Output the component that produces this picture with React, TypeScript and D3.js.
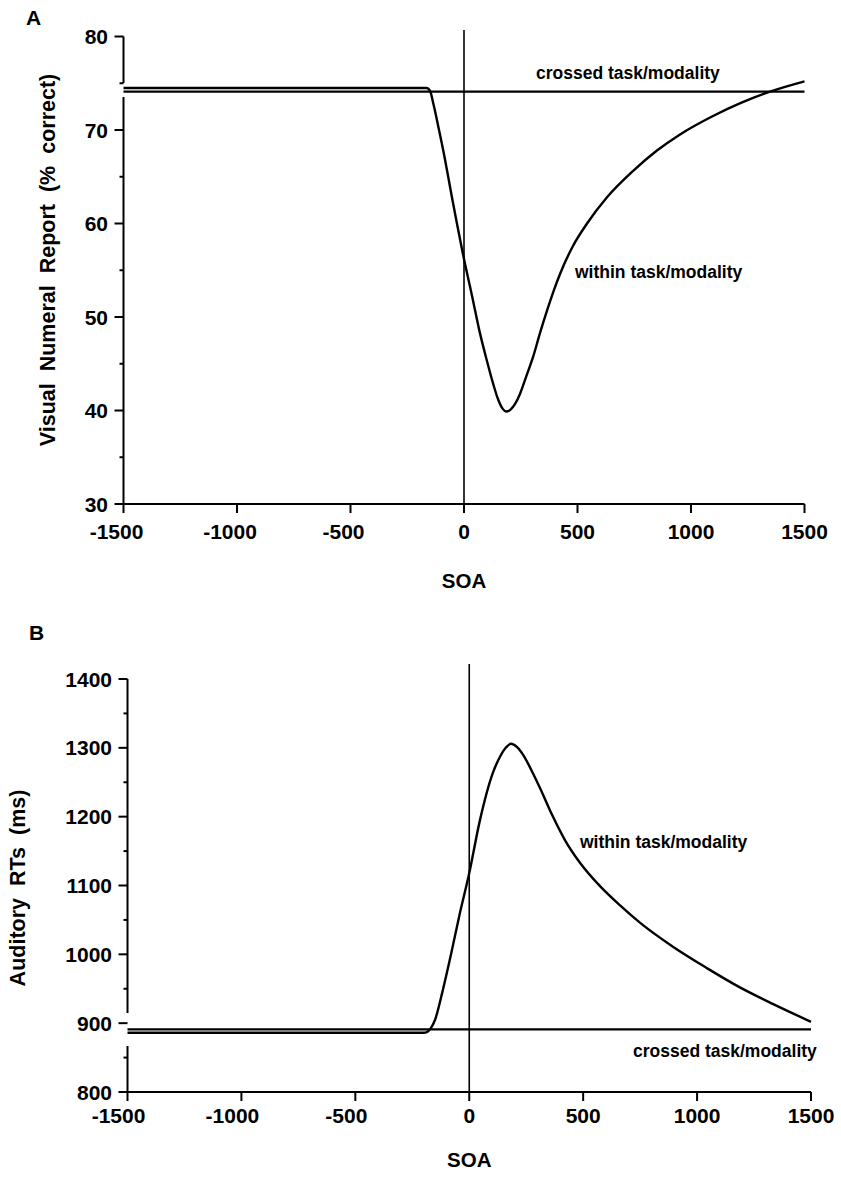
import React from "react";
import * as d3 from "d3";

// ---------- Data ----------
const xTicks = [-1500, -1000, -500, 0, 500, 1000, 1500];

// Panel A: Visual numeral report (% correct)
const aYMajor = [30, 40, 50, 60, 70, 80];
const aYMinor = [35, 45, 55, 65, 75];
const aWithinSOA = [-1500, -1000, -500, -300, -165, -150, -135, -110, -92, -50, 0, 35, 70, 100, 128, 150, 170, 185, 205, 225, 247, 275, 304, 335, 366, 395, 423, 480, 542, 630, 744, 850, 950, 1097, 1220, 1348, 1500];
const aWithinVal = [74.5, 74.5, 74.5, 74.5, 74.5, 74.2, 72.8, 70.0, 67.9, 62.4, 56.2, 52.3, 48.3, 45.4, 42.9, 41.2, 40.2, 39.9, 40.1, 40.7, 41.8, 43.7, 45.7, 48.3, 50.7, 52.8, 54.6, 57.6, 60.0, 62.8, 65.6, 67.8, 69.5, 71.5, 72.9, 74.1, 75.2];
const aCrossedSOA = [-1500, 1500];
const aCrossedVal = [74.1, 74.1];

// Panel B: Auditory RTs (ms)
const bYMajor = [800, 900, 1000, 1100, 1200, 1300, 1400];
const bYMinor = [850, 950, 1050, 1150, 1250, 1350];
const bWithinSOA = [-1500, -1000, -500, -300, -200, -186, -170, -150, -116, -80, -45, 0, 47, 104, 135, 160, 183, 210, 240, 275, 310, 363, 420, 486, 574, 662, 749, 894, 1043, 1188, 1332, 1500];
const bWithinVal = [886, 886, 886, 886, 886, 887, 892, 905, 948, 1000, 1054, 1118, 1195, 1264, 1287, 1300, 1306, 1301, 1288, 1266, 1242, 1203, 1166, 1133, 1099, 1071, 1046, 1011, 980, 952, 928, 902];
const bCrossedSOA = [-1500, 1500];
const bCrossedVal = [891, 891];

const FONT = "'Liberation Sans', Arial, Helvetica, sans-serif";

type PanelProps = {
  letter: string;
  letterPos: [number, number];
  xRange: [number, number];
  yDomain: [number, number];
  yRange: [number, number];
  yMajor: number[];
  yMinor: number[];
  withinSOA: number[];
  withinVal: number[];
  crossedSOA: number[];
  crossedVal: number[];
  zeroTop: number;
  yTitle: string;
  yTitleX: number;
  yTitleY: number;
  yLabelRight: number;
  xLabelBaseline: number;
  negOffset: number;
  tickFont: number;
  soaY: number;
  gap: [number, number];
  withinLabel: [number, number];
  crossedLabel: [number, number];
};

function Panel(p: PanelProps) {
  const x = d3.scaleLinear().domain([-1500, 1500]).range(p.xRange);
  const y = d3.scaleLinear().domain(p.yDomain).range(p.yRange);
  const line = d3
    .line<[number, number]>()
    .x((d) => x(d[0]))
    .y((d) => y(d[1]))
    .curve(d3.curveMonotoneX);
  const within = p.withinSOA.map((s, i) => [s, p.withinVal[i]] as [number, number]);
  const crossed = p.crossedSOA.map((s, i) => [s, p.crossedVal[i]] as [number, number]);
  const x0 = p.xRange[0];
  const yBottom = p.yRange[0];
  const yTop = p.yRange[1];
  return (
    <g fontFamily={FONT} fontWeight="bold" fill="#000">
      <text x={p.letterPos[0]} y={p.letterPos[1]} fontSize={21}>{p.letter}</text>
      {/* y axis */}
      <line x1={x0} x2={x0} y1={yTop} y2={yBottom} stroke="#000" strokeWidth={2} />
      <line x1={x0} x2={x0} y1={p.gap[0]} y2={p.gap[1]} stroke="#fff" strokeWidth={3} />
      {p.yMajor.map((v) => (
        <g key={"ym" + v}>
          <line x1={x0 - 9} x2={x0} y1={y(v)} y2={y(v)} stroke="#000" strokeWidth={2} />
          <text x={p.yLabelRight} y={y(v)} dy="0.36em" textAnchor="end" fontSize={p.tickFont}>{v}</text>
        </g>
      ))}
      {p.yMinor.map((v) => (
        <line key={"yn" + v} x1={x0 - 4} x2={x0} y1={y(v)} y2={y(v)} stroke="#000" strokeWidth={2} />
      ))}
      {/* x axis */}
      <line x1={x0} x2={p.xRange[1]} y1={yBottom} y2={yBottom} stroke="#000" strokeWidth={2} />
      {xTicks.map((t) => (
        <g key={"xt" + t}>
          <line x1={x(t)} x2={x(t)} y1={yBottom} y2={yBottom + 9} stroke="#000" strokeWidth={2} />
          <text x={x(t) + (t < 0 ? p.negOffset : 0)} y={p.xLabelBaseline} textAnchor="middle" fontSize={p.tickFont}>{t}</text>
        </g>
      ))}
      {/* zero line */}
      <line x1={x(0)} x2={x(0)} y1={p.zeroTop} y2={yBottom} stroke="#000" strokeWidth={1.6} />
      {/* curves */}
      <path d={line(crossed) || ""} fill="none" stroke="#000" strokeWidth={2.2} />
      <path d={line(within) || ""} fill="none" stroke="#000" strokeWidth={2.4} strokeLinejoin="round" />
      {/* labels */}
      <text x={p.withinLabel[0]} y={p.withinLabel[1]} fontSize={17.5}>within task/modality</text>
      <text x={p.crossedLabel[0]} y={p.crossedLabel[1]} fontSize={17.5}>crossed task/modality</text>
      <text x={x(0)} y={p.soaY} textAnchor="middle" fontSize={20.5}>SOA</text>
      <text
        transform={`translate(${p.yTitleX},${p.yTitleY}) rotate(-90)`}
        textAnchor="middle"
        fontSize={21.5}
        wordSpacing={6}
      >
        {p.yTitle}
      </text>
    </g>
  );
}

export default function App() {
  return (
    <svg
      width={841}
      height={1186}
      viewBox="0 0 841 1186"
      style={{ position: "absolute", left: 0, top: 0, background: "#fff" }}
    >
      <rect x={0} y={0} width={841} height={1186} fill="#fff" />
      <Panel
        letter="A"
        letterPos={[26, 25]}
        xRange={[123.5, 804.5]}
        yDomain={[30, 80]}
        yRange={[504, 36.5]}
        yMajor={aYMajor}
        yMinor={aYMinor}
        withinSOA={aWithinSOA}
        withinVal={aWithinVal}
        crossedSOA={aCrossedSOA}
        crossedVal={aCrossedVal}
        zeroTop={30}
        yTitle="Visual Numeral Report (% correct)"
        yTitleX={55}
        yTitleY={260}
        yLabelRight={108}
        xLabelBaseline={539}
        negOffset={-7}
        tickFont={21}
        soaY={588}
        gap={[83, 97]}
        withinLabel={[575, 278]}
        crossedLabel={[536, 79]}
      />
      <Panel
        letter="B"
        letterPos={[29, 640]}
        xRange={[127.5, 811]}
        yDomain={[800, 1400]}
        yRange={[1092, 679]}
        yMajor={bYMajor}
        yMinor={bYMinor}
        withinSOA={bWithinSOA}
        withinVal={bWithinVal}
        crossedSOA={bCrossedSOA}
        crossedVal={bCrossedVal}
        zeroTop={664}
        yTitle="Auditory RTs (ms)"
        yTitleX={25}
        yTitleY={888}
        yLabelRight={112}
        xLabelBaseline={1123}
        negOffset={-9}
        tickFont={21}
        soaY={1167}
        gap={[1013, 1046]}
        withinLabel={[580, 848]}
        crossedLabel={[633, 1057]}
      />
    </svg>
  );
}
